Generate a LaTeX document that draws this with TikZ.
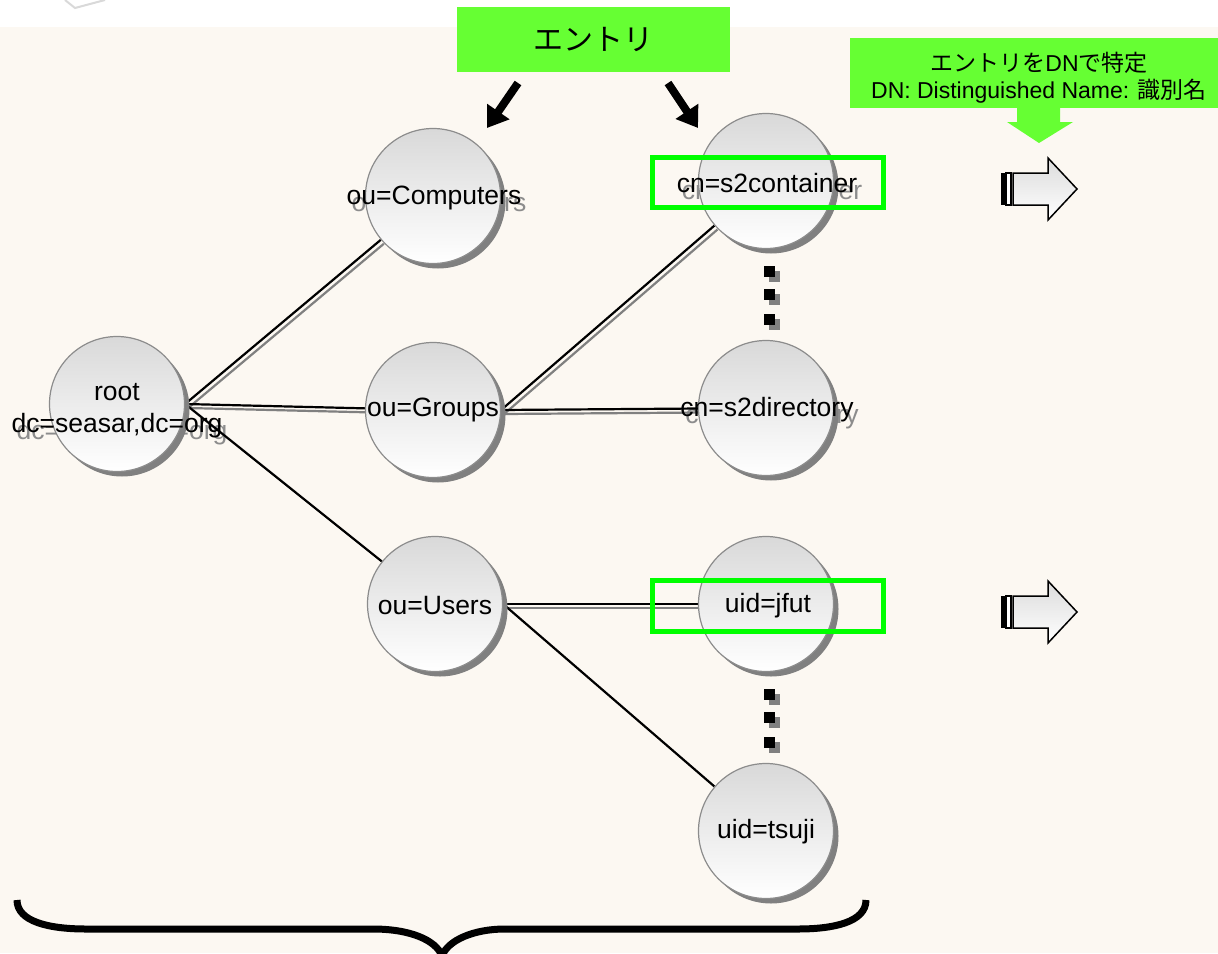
\documentclass[tikz,border=0pt]{standalone}
\usepackage{fontspec}
\setmainfont{Liberation Sans}
\newfontfamily\jpfont{Noto Sans CJK JP}
\usepackage{tikz}
\usetikzlibrary{arrows.meta,positioning,calc,shadows,backgrounds}
\definecolor{cream}{RGB}{252,248,242}
\definecolor{lime}{RGB}{102,255,51}
\definecolor{hilite}{RGB}{0,255,0}

\begin{document}
\begin{tikzpicture}[x=1pt,y=-1pt,
  ent/.style={circle,draw=black!45,line width=1.2pt,top color=black!15,bottom color=white,
    minimum size=135pt,inner sep=0pt,
    drop shadow={shadow xshift=5pt,shadow yshift=-5pt,fill=black!50,opacity=1}},
  lbl/.style={font=\fontsize{26.5}{32}\selectfont,align=center,inner sep=0pt},
  ghost/.style={lbl,text=black!45},
  link/.style={line width=2.2pt},
  linkshade/.style={line width=2.2pt,black!50,transform canvas={shift={(3,4)}}},
  pick/.style={draw=hilite,line width=5pt,inner sep=0pt},
  tag/.style={fill=lime,inner sep=0pt},
  bigarrow/.style={line width=8pt,-{Triangle[width=26pt,length=20pt]}}]
\useasboundingbox (0,0) rectangle (1218,953);

% directory entries
\node[ent] (root) at (117,404) {};
\node[ent] (comp) at (433,196) {};
\node[ent] (groups) at (433,410) {};
\node[ent] (users) at (435,604) {};
\node[ent] (cont) at (766,181) {};
\node[ent] (dir) at (766,408) {};
\node[ent] (jfut) at (766,604) {};
\node[ent] (tsuji) at (766,831) {};

\node[lbl] (rootl) at (117,411) {root\\dc=seasar,dc=org};
\node[lbl] (compl) at (434,198) {ou=Computers};
\node[lbl] (groupsl) at (433,410) {ou=Groups};
\node[lbl] (usersl) at (435,606) {ou=Users};
\node[lbl] (contl) at (767,183) {cn=s2container};
\node[lbl] (dirl) at (767,410) {cn=s2directory};
\node[lbl] (jfutl) at (768,606) {uid=jfut};
\node[lbl] (tsujil) at (766,832) {uid=tsuji};

\begin{scope}[on background layer]
\fill[cream] (0,27) rectangle (1218,953);
\draw[black!15,line width=2pt] (65,0) -- (75,8) -- (105,0);
\node[ghost] at ($(rootl)+(5,7)$) {root\\dc=seasar,dc=org};
\node[ghost] at ($(compl)+(5,7)$) {ou=Computers};
\node[ghost] at ($(contl)+(5,7)$) {cn=s2container};
\node[ghost] at ($(dirl)+(5,7)$) {cn=s2directory};
% links
\draw[linkshade] (root.east) -- (comp);
\draw[linkshade] (root.east) -- (groups);
\draw[linkshade] (groups.east) -- (cont);
\draw[linkshade] (groups.east) -- (dir);
\draw[linkshade] (users.east) -- (jfut);
\draw[link] (root.east) -- (comp);
\draw[link] (root.east) -- (groups);
\draw[link] (root.east) -- (users);
\draw[link] (groups.east) -- (cont);
\draw[link] (groups.east) -- (dir);
\draw[link] (users.east) -- (jfut);
\draw[link] (users.east) -- (tsuji);
\end{scope}

% more entries below
\foreach \y in {271,294,319,694,717,742}{
  \fill[black!50] (768.5,\y-0.5) rectangle +(11,11);
  \fill (763.5,\y-5.5) rectangle +(11,11);
}

\node[pick,minimum width=231pt,minimum height=50pt] (hl1) at (767.5,182) {};
\node[pick,minimum width=231pt,minimum height=51pt] (hl2) at (767.5,605.5) {};

% labels on top
\node[tag,minimum width=273pt,minimum height=65pt,font=\jpfont\fontsize{30}{36}\selectfont] (entry) at (593.5,39.5) {エントリ};
\coordinate (e1) at (518,83);
\coordinate (e2) at (487,128);
\coordinate (e3) at (668,83);
\coordinate (e4) at (698,128);
\draw[bigarrow] (e1) -- (e2);
\draw[bigarrow] (e3) -- (e4);

\node[tag,minimum width=368pt,minimum height=70pt] (dnbox) at (1034,73) {};
\fill[lime] (1017,107) -- (1017,122) -- (1007,122) -- (1039,143) -- (1073,122) -- (1060,122) -- (1060,107) -- cycle;
\node[font=\fontsize{23}{27}\selectfont,align=center,inner sep=0pt] (dntext) at (1039,78)
  {{\jpfont エントリを}DN{\jpfont で特定}\\DN: Distinguished Name: {\jpfont 識別名}};

% block arrows
\foreach \y in {189,612}{
  \begin{scope}[shift={(0,\y)}]
    \fill (1001,-16) rectangle (1005,16);
    \draw[line width=1.2pt,fill=white] (1006,-16) rectangle (1011,16);
    \draw[line width=1.5pt,top color=black!14,bottom color=white] (1013,-16) -- (1048,-16) -- (1048,-31) -- (1077,0) -- (1048,31) -- (1048,16) -- (1013,16) -- cycle;
  \end{scope}
}

% brace
\draw[line width=7pt] (17,900) .. controls (17,922) and (50,929) .. (86,929) -- (373,929)
  .. controls (410,929) and (436,940) .. (442,956) .. controls (448,940) and (474,929) .. (505,929)
  -- (798,929) .. controls (834,929) and (866,922) .. (866,900);
\end{tikzpicture}
\end{document}
